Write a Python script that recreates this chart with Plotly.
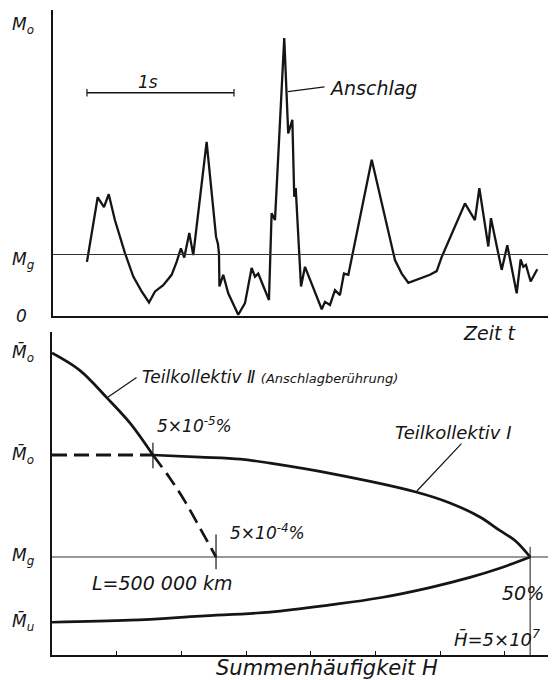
import plotly.graph_objects as go

# ---------------- data: top panel (moment over time) ----------------
t_s = [0.0, 0.073, 0.116, 0.148, 0.19, 0.259, 0.315, 0.372, 0.422, 0.463, 0.519, 0.576, 0.61, 0.639,
       0.662, 0.696, 0.723, 0.814, 0.878, 0.891, 0.898, 0.901, 0.927, 0.961, 1.029, 1.075, 1.12, 1.143,
       1.165, 1.238, 1.256, 1.279, 1.342, 1.352, 1.369, 1.397, 1.41, 1.42, 1.442, 1.456, 1.483, 1.517,
       1.573, 1.597, 1.619, 1.653, 1.687, 1.721, 1.748, 1.778, 1.937, 2.095, 2.141, 2.186, 2.333, 2.379,
       2.413, 2.571, 2.639, 2.669, 2.73, 2.748, 2.821, 2.859, 2.923, 2.95, 2.968, 2.986, 3.018, 3.063]
m_t = [0.88, 1.93, 1.77, 1.98, 1.56, 1.02, 0.64, 0.40, 0.22, 0.40, 0.50, 0.67, 0.88, 1.10,
       0.95, 1.35, 0.99, 2.83, 1.29, 1.17, 1.02, 0.48, 0.67, 0.37, 0.02, 0.21, 0.78, 0.64,
       0.69, 0.26, 1.67, 1.56, 4.52, 4.03, 2.97, 3.19, 1.94, 2.08, 0.99, 0.48, 0.80, 0.59,
       0.26, 0.11, 0.23, 0.18, 0.42, 0.34, 0.69, 0.67, 2.54, 0.91, 0.69, 0.54, 0.67, 0.73,
       0.96, 1.83, 1.56, 2.08, 1.13, 1.59, 0.75, 1.15, 0.37, 0.92, 0.80, 0.83, 0.56, 0.76]
MG_TOP = 1.0
MO_TOP = 4.73
SCALE_BAR = [0.0, 1.0]   # 1 s
SCALE_BAR_Y = 3.63

# ---------------- data: bottom panel (cumulative frequency) ----------------
# x: decades of H, y: moment relative to Mg (Mg = 0, Mo = 1, Mo_top = 2)
H2_solid = [0.0, 0.43, 0.85, 1.21, 1.56]
M2_solid = [2.0, 1.83, 1.56, 1.31, 1.0]
H2_dash = [1.56, 1.82, 2.06, 2.29, 2.535]
M2_dash = [1.0, 0.775, 0.54, 0.28, 0.0]
H1_dash = [0.0, 1.56]
M1_dash = [1.0, 1.0]
H1_upper = [1.56, 2.29, 2.91, 3.37, 4.30, 5.61, 6.15, 6.62, 6.92, 7.16, 7.39]
M1_upper = [1.0, 0.98, 0.96, 0.92, 0.82, 0.64, 0.53, 0.39, 0.26, 0.16, 0.0]
H1_lower = [0.0, 1.21, 2.29, 3.37, 4.30, 5.07, 5.84, 6.46, 6.92, 7.39]
M1_lower = [-0.64, -0.62, -0.58, -0.54, -0.47, -0.40, -0.30, -0.20, -0.11, 0.0]
Y_LEVELS = [2.0, 1.0, 0.0, -0.64]
Y_LEVEL_LABELS = ["M\u0304<sub>o</sub>", "M\u0304<sub>o</sub>", "M<sub>g</sub>", "M\u0304<sub>u</sub>"]
X_TICKS = [1, 2, 3, 4, 5, 6, 7]

W, H = 553, 680
INK = "#151515"
FONT = "DejaVu Sans"

def px_x(p):
    return p / W

def px_y(p):
    return 1 - p / H

fig = go.Figure()

# top curve
fig.add_trace(go.Scatter(x=t_s, y=m_t, mode="lines", line=dict(color=INK, width=2.3),
                         xaxis="x", yaxis="y", hoverinfo="skip", showlegend=False))
# bottom curves
bl = dict(color=INK, width=2.7, shape="spline", smoothing=1.0)
fig.add_trace(go.Scatter(x=H2_solid, y=M2_solid, mode="lines", line=bl,
                         xaxis="x2", yaxis="y2", showlegend=False))
fig.add_trace(go.Scatter(x=H2_dash, y=M2_dash, mode="lines", line=dict(bl, dash="15px,7px"),
                         xaxis="x2", yaxis="y2", showlegend=False))
fig.add_trace(go.Scatter(x=H1_dash, y=M1_dash, mode="lines", line=dict(color=INK, width=2.9, dash="15px,7px"),
                         xaxis="x2", yaxis="y2", showlegend=False))
fig.add_trace(go.Scatter(x=H1_upper, y=M1_upper, mode="lines", line=bl,
                         xaxis="x2", yaxis="y2", showlegend=False))
fig.add_trace(go.Scatter(x=H1_lower, y=M1_lower, mode="lines", line=bl,
                         xaxis="x2", yaxis="y2", showlegend=False))

shapes = []
# Mg lines
shapes.append(dict(type="line", xref="x domain", yref="y", x0=0, x1=1, y0=MG_TOP, y1=MG_TOP,
                   line=dict(color="#333", width=1)))
shapes.append(dict(type="line", xref="x2 domain", yref="y2", x0=0, x1=1, y0=0, y1=0,
                   line=dict(color="#333", width=1)))
# 1 s scale bar
shapes.append(dict(type="line", xref="x", yref="y", x0=SCALE_BAR[0], x1=SCALE_BAR[1], y0=SCALE_BAR_Y, y1=SCALE_BAR_Y,
                   line=dict(color=INK, width=1.6)))
for xv in SCALE_BAR:
    shapes.append(dict(type="line", xref="x", yref="y", x0=xv, x1=xv, y0=SCALE_BAR_Y - 0.06, y1=SCALE_BAR_Y + 0.06,
                       line=dict(color=INK, width=1.2)))
# cross ticks at intersections
shapes.append(dict(type="line", xref="x2", yref="y2", x0=H2_solid[-1], x1=H2_solid[-1], y0=0.87, y1=1.12,
                   line=dict(color=INK, width=1.2)))
shapes.append(dict(type="line", xref="x2", yref="y2", x0=H2_dash[-1], x1=H2_dash[-1], y0=-0.12, y1=0.22,
                   line=dict(color=INK, width=1.2)))
shapes.append(dict(type="line", xref="x2", yref="y2", x0=H1_upper[-1], x1=H1_upper[-1], y0=-0.96, y1=0.10,
                   line=dict(color=INK, width=1.0)))
fig.update_layout(shapes=shapes)

tf = dict(family=FONT, color=INK, size=17, style="italic")
C = dict(xanchor="center", yanchor="middle", showarrow=False)
L = dict(xanchor="left", yanchor="middle", showarrow=False)
ann = []
# top-left labels
ann.append(dict(C, x=px_x(23), xref="paper", y=MO_TOP, yref="y", text="M<sub>o</sub>", font=tf))
ann.append(dict(C, x=px_x(23), xref="paper", y=MG_TOP - 0.1, yref="y", text="M<sub>g</sub>", font=tf))
ann.append(dict(C, x=px_x(21), xref="paper", y=0, yref="y", text="0", font=tf))
ann.append(dict(C, x=0.415, xref="x", y=3.8, yref="y", text="1s", font=tf))
ann.append(dict(L, x=1.633, xref="x", y=3.71, yref="y", text="Anschlag", font=dict(tf, size=19)))
ann.append(dict(x=1.367, y=3.65, xref="x", yref="y", ax=1.626, ay=3.73, axref="x", ayref="y",
                text="", showarrow=True, arrowhead=0, arrowwidth=1.2, arrowcolor=INK))
ann.append(dict(C, x=px_x(489), xref="paper", y=px_y(333), yref="paper", text="Zeit t",
                font=dict(tf, size=19)))
# bottom-left labels
for yv, lab in zip(Y_LEVELS, Y_LEVEL_LABELS):
    ann.append(dict(C, x=px_x(23), xref="paper", y=yv, yref="y2", text=lab, font=tf))
ann.append(dict(L, x=1.36, xref="x2", y=1.765, yref="y2",
                text="Teilkollektiv \u2161 <span style='font-size:13px'>(Anschlagberührung)</span>",
                font=dict(tf, size=17)))
ann.append(dict(x=0.845, y=1.559, xref="x2", yref="y2", ax=1.33, ay=1.77, axref="x2", ayref="y2",
                text="", showarrow=True, arrowhead=0, arrowwidth=1.2, arrowcolor=INK))
ann.append(dict(L, x=1.59, xref="x2", y=1.29, yref="y2", text="5×10<sup>-5</sup>%", font=dict(tf, size=17)))
ann.append(dict(L, x=5.27, xref="x2", y=1.225, yref="y2", text="Teilkollektiv \u2160", font=dict(tf, size=18)))
ann.append(dict(x=5.64, y=0.647, xref="x2", yref="y2", ax=6.35, ay=1.127, axref="x2", ayref="y2",
                text="", showarrow=True, arrowhead=0, arrowwidth=1.2, arrowcolor=INK))
ann.append(dict(L, x=2.72, xref="x2", y=0.245, yref="y2", text="5×10<sup>-4</sup>%", font=dict(tf, size=17)))
ann.append(dict(L, x=0.587, xref="x2", y=-0.255, yref="y2", text="L=500 000 km", font=dict(tf, size=19)))
ann.append(dict(L, x=6.92, xref="x2", y=-0.353, yref="y2", text="50%", font=dict(tf, size=19)))
ann.append(dict(L, x=6.18, xref="x2", y=-0.794, yref="y2", text="H\u0304=5×10<sup>7</sup>", font=dict(tf, size=18)))
ann.append(dict(L, x=px_x(214), xref="paper", y=px_y(668), yref="paper",
                text="Summenhäufigkeit H", font=dict(tf, size=21)))
fig.update_layout(annotations=ann)

ax_common = dict(showgrid=False, zeroline=False, showline=True, linecolor=INK, linewidth=2,
                 fixedrange=True)
fig.update_layout(
    width=W, height=H,
    margin=dict(l=0, r=0, t=0, b=0),
    paper_bgcolor="white", plot_bgcolor="white",
    showlegend=False,
    xaxis=dict(ax_common, domain=[px_x(53), px_x(548)], range=[-0.231, 3.136], showticklabels=False,
               ticks="", anchor="y"),
    yaxis=dict(ax_common, domain=[px_y(316), px_y(10)], range=[0, 4.976], showticklabels=False,
               ticks="", anchor="x"),
    xaxis2=dict(ax_common, domain=[px_x(52), px_x(548)], range=[0, 7.666], showticklabels=False,
                ticks="inside", ticklen=4, tickwidth=1.2, tickcolor=INK, tickvals=X_TICKS, anchor="y2"),
    yaxis2=dict(ax_common, domain=[px_y(655), px_y(332)], range=[-0.961, 2.206], showticklabels=False,
                ticks="", anchor="x2"),
)

fig.write_html("out.html")
